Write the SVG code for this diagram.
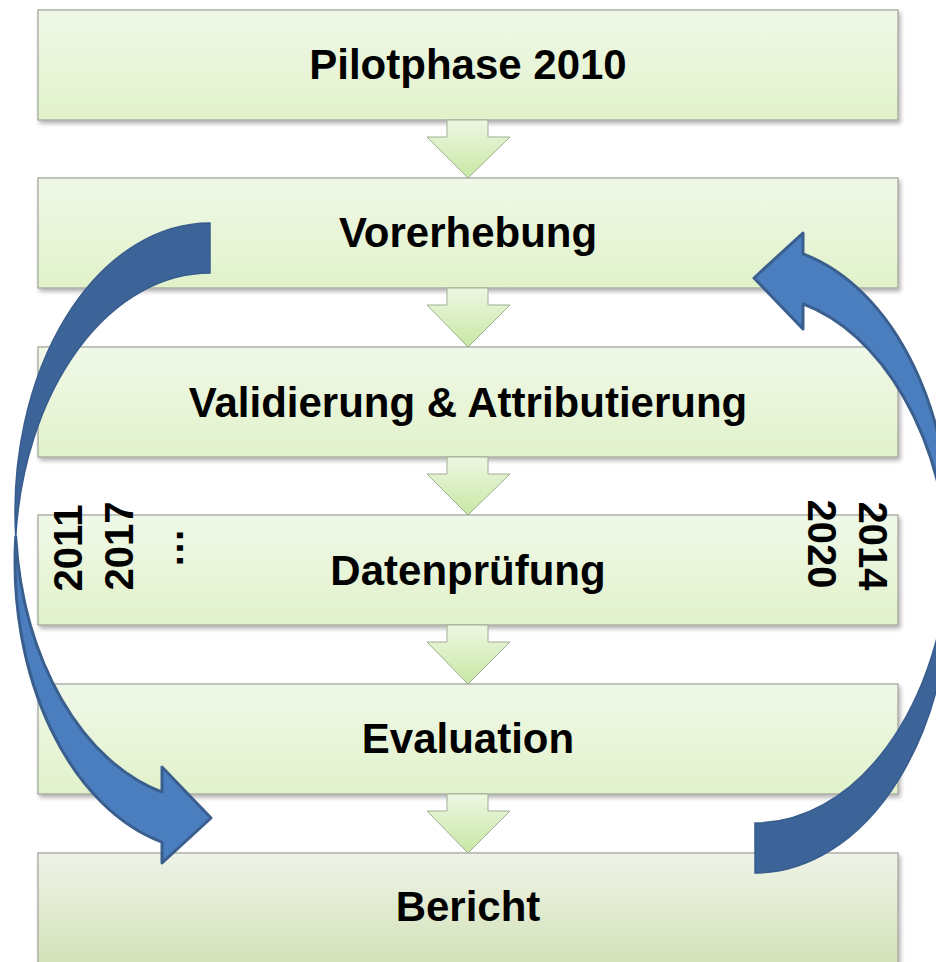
<svg xmlns="http://www.w3.org/2000/svg" xmlns:xlink="http://www.w3.org/1999/xlink" width="936" height="962" viewBox="0 0 936 962">
<style>
  .box { stroke: #a3a79f; stroke-width: 1.3; filter: url(#shadow); }
  .lbl { font-family: "Liberation Sans", Arial, sans-serif; font-weight: bold; font-size: 42px; fill: #000; text-anchor: middle; }
  .yr { font-family: "Liberation Sans", Arial, sans-serif; font-weight: bold; font-size: 40px; fill: #000; text-anchor: middle; }
  .down { fill: url(#arrowGrad); stroke: #9fae92; stroke-width: 1; }
  .back { fill: #3d6498; stroke: #375c8d; stroke-width: 1.5; }
  .front { fill: #4a7ebe; stroke: #3a5f8e; stroke-width: 3; stroke-linejoin: round; }
</style>
<defs>
  <linearGradient id="boxGrad" x1="0" y1="0" x2="0" y2="1">
    <stop offset="0" stop-color="#f0f8e8"/>
    <stop offset="1" stop-color="#e1f2ca"/>
  </linearGradient>
  <linearGradient id="lastGrad" x1="0" y1="0" x2="0" y2="1">
    <stop offset="0" stop-color="#eff3e8"/>
    <stop offset="1" stop-color="#d3e2b8"/>
  </linearGradient>
  <linearGradient id="arrowGrad" x1="0" y1="0" x2="0" y2="1">
    <stop offset="0" stop-color="#edf7e2"/>
    <stop offset="1" stop-color="#c8e8a4"/>
  </linearGradient>
  <filter id="shadow" x="-5%" y="-10%" width="110%" height="130%">
    <feDropShadow dx="2" dy="3" stdDeviation="2" flood-color="#000" flood-opacity="0.3"/>
  </filter>
  <g id="curved">
    <path class="back" d="M210 223 A195 289 0 0 0 15.73 537 A195 289 0 0 1 210 273 Z"/>
    <path class="front" d="M15.73 537 A195 289 0 0 0 162 842.1 L162 863 L211 818 L162 767 L162 792.1 A195 289 0 0 1 15.73 537 Z"/>
  </g>
</defs>

<g id="node-pilotphase">
  <rect class="box" x="38" y="10" width="860" height="110" fill="url(#boxGrad)"/>
  <text class="lbl" x="468" y="79">Pilotphase 2010</text>
</g>
<g id="node-vorerhebung">
  <rect class="box" x="38" y="178" width="860" height="110" fill="url(#boxGrad)"/>
  <text class="lbl" x="468" y="247">Vorerhebung</text>
</g>
<g id="node-validierung">
  <rect class="box" x="38" y="347" width="860" height="110" fill="url(#boxGrad)"/>
  <text class="lbl" x="468" y="417">Validierung &amp; Attributierung</text>
</g>
<g id="node-datenpruefung">
  <rect class="box" x="38" y="515" width="860" height="110" fill="url(#boxGrad)"/>
  <text class="lbl" x="468" y="585">Datenprüfung</text>
</g>
<g id="node-evaluation">
  <rect class="box" x="38" y="684" width="860" height="110" fill="url(#boxGrad)"/>
  <text class="lbl" x="468" y="753">Evaluation</text>
</g>
<g id="node-bericht">
  <rect class="box" x="38" y="853" width="860" height="112" fill="url(#lastGrad)"/>
  <text class="lbl" x="468" y="921">Bericht</text>
</g>

<g id="connectors">
  <path class="down" d="M447 120 L488 120 L488 137 L510 137 L468 178 L427 137 L447 137 Z"/>
  <path class="down" d="M447 288 L488 288 L488 305 L510 305 L468 347 L427 305 L447 305 Z"/>
  <path class="down" d="M447 457 L488 457 L488 474 L510 474 L468 515 L427 474 L447 474 Z"/>
  <path class="down" d="M447 625 L488 625 L488 642 L510 642 L468 684 L427 642 L447 642 Z"/>
  <path class="down" d="M447 794 L488 794 L488 811 L510 811 L468 853 L427 811 L447 811 Z"/>
  <use xlink:href="#curved"/>
  <use xlink:href="#curved" transform="rotate(180 482.5 548)"/>
</g>

<g id="year-labels">
  <text class="yr" transform="translate(82,548) rotate(-90)">2011</text>
  <text class="yr" transform="translate(133,546) rotate(-90)">2017</text>
  <text class="yr" transform="translate(183,548) rotate(-90)">…</text>
  <text class="yr" transform="translate(859,546) rotate(90)">2014</text>
  <text class="yr" transform="translate(808,544) rotate(90)">2020</text>
</g>
</svg>
